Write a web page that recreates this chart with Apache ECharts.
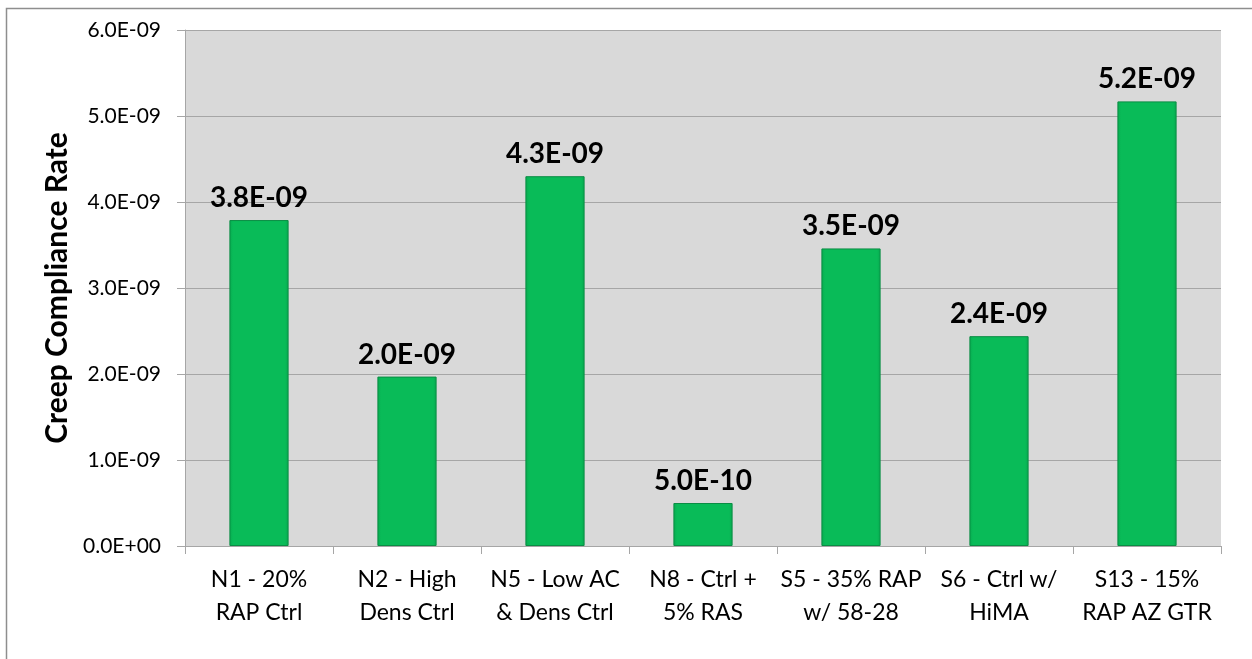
<!DOCTYPE html>
<html>
<head>
<meta charset="utf-8">
<script src="https://cdn.jsdelivr.net/npm/echarts@6/dist/echarts.min.js"></script>
<style>
  html, body { margin: 0; padding: 0; background: #ffffff; }
  #chart { width: 1252px; height: 659px; }
</style>
</head>
<body>
<div id="chart"></div>
<script>
// Mix designs (two-line labels)
const categories = [
  'N1 - 20%\nRAP Ctrl',
  'N2 - High\nDens Ctrl',
  'N5 - Low AC\n& Dens Ctrl',
  'N8 - Ctrl +\n5% RAS',
  'S5 - 35% RAP\nw/ 58-28',
  'S6 - Ctrl w/\nHiMA',
  'S13 - 15%\nRAP AZ GTR'
];

// Creep compliance rate per mix
const creepRate = [3.79e-9, 1.97e-9, 4.30e-9, 0.50e-9, 3.46e-9, 2.44e-9, 5.17e-9];

// Value axis range
const yMin = 0;
const yMax = 6e-9;
const yStep = 1e-9;

// Scientific notation like "3.8E-09" / "0.0E+00"
function sci(v) {
  const parts = Number(v).toExponential(1).split('e');
  const exp = parseInt(parts[1], 10);
  const sign = exp < 0 ? '-' : '+';
  const mag = String(Math.abs(exp)).padStart(2, '0');
  return parts[0] + 'E' + sign + mag;
}

const FONT = 'Lato, "Open Sans", sans-serif';

const chart = echarts.init(document.getElementById('chart'), null, { renderer: 'canvas' });

chart.setOption({
  animation: false,
  backgroundColor: '#ffffff',
  graphic: [
    {
      type: 'rect',
      silent: true,
      z: -10,
      shape: { x: 6.5, y: 8.5, width: 1400, height: 800 },
      style: { fill: null, stroke: '#8e8e8e', lineWidth: 1.5 }
    }
  ],
  grid: {
    left: 185,
    top: 30,
    right: 31,
    bottom: 113,
    show: true,
    backgroundColor: '#d9d9d9',
    borderWidth: 0
  },
  xAxis: {
    type: 'category',
    data: categories,
    axisLine: { show: true, lineStyle: { color: '#a6a6a6', width: 1 } },
    axisTick: { show: true, length: 8, alignWithLabel: false, lineStyle: { color: '#a6a6a6' } },
    axisLabel: {
      interval: 0,
      margin: 17,
      color: '#000000',
      fontFamily: FONT,
      fontSize: 23,
      lineHeight: 33
    },
    splitLine: { show: false }
  },
  yAxis: {
    type: 'value',
    min: yMin,
    max: yMax,
    interval: yStep,
    name: 'Creep Compliance Rate',
    nameLocation: 'middle',
    nameGap: 110,
    nameRotate: 90,
    nameTextStyle: {
      color: '#000000',
      fontFamily: FONT,
      fontSize: 30,
      fontWeight: 'bold'
    },
    axisLine: { show: true, lineStyle: { color: '#a6a6a6', width: 1 } },
    axisTick: { show: true, length: 8, lineStyle: { color: '#a6a6a6' } },
    axisLabel: {
      margin: 24,
      color: '#000000',
      fontFamily: FONT,
      fontSize: 21,
      formatter: sci
    },
    splitLine: { show: true, lineStyle: { color: '#a6a6a6', width: 1 } }
  },
  series: [
    {
      type: 'bar',
      data: creepRate,
      barWidth: '40%',
      itemStyle: {
        color: {
          type: 'linear', x: 0, y: 0, x2: 1, y2: 0,
          colorStops: [
            { offset: 0, color: '#07a94f' },
            { offset: 0.06, color: '#09bb58' },
            { offset: 0.94, color: '#09bb58' },
            { offset: 1, color: '#07a94f' }
          ]
        },
        borderColor: '#0a8d44',
        borderWidth: 1
      },
      label: {
        show: true,
        position: 'top',
        distance: 8,
        color: '#000000',
        fontFamily: FONT,
        fontSize: 28,
        fontWeight: 'bold',
        formatter: p => sci(p.value)
      }
    }
  ]
});
</script>
</body>
</html>
